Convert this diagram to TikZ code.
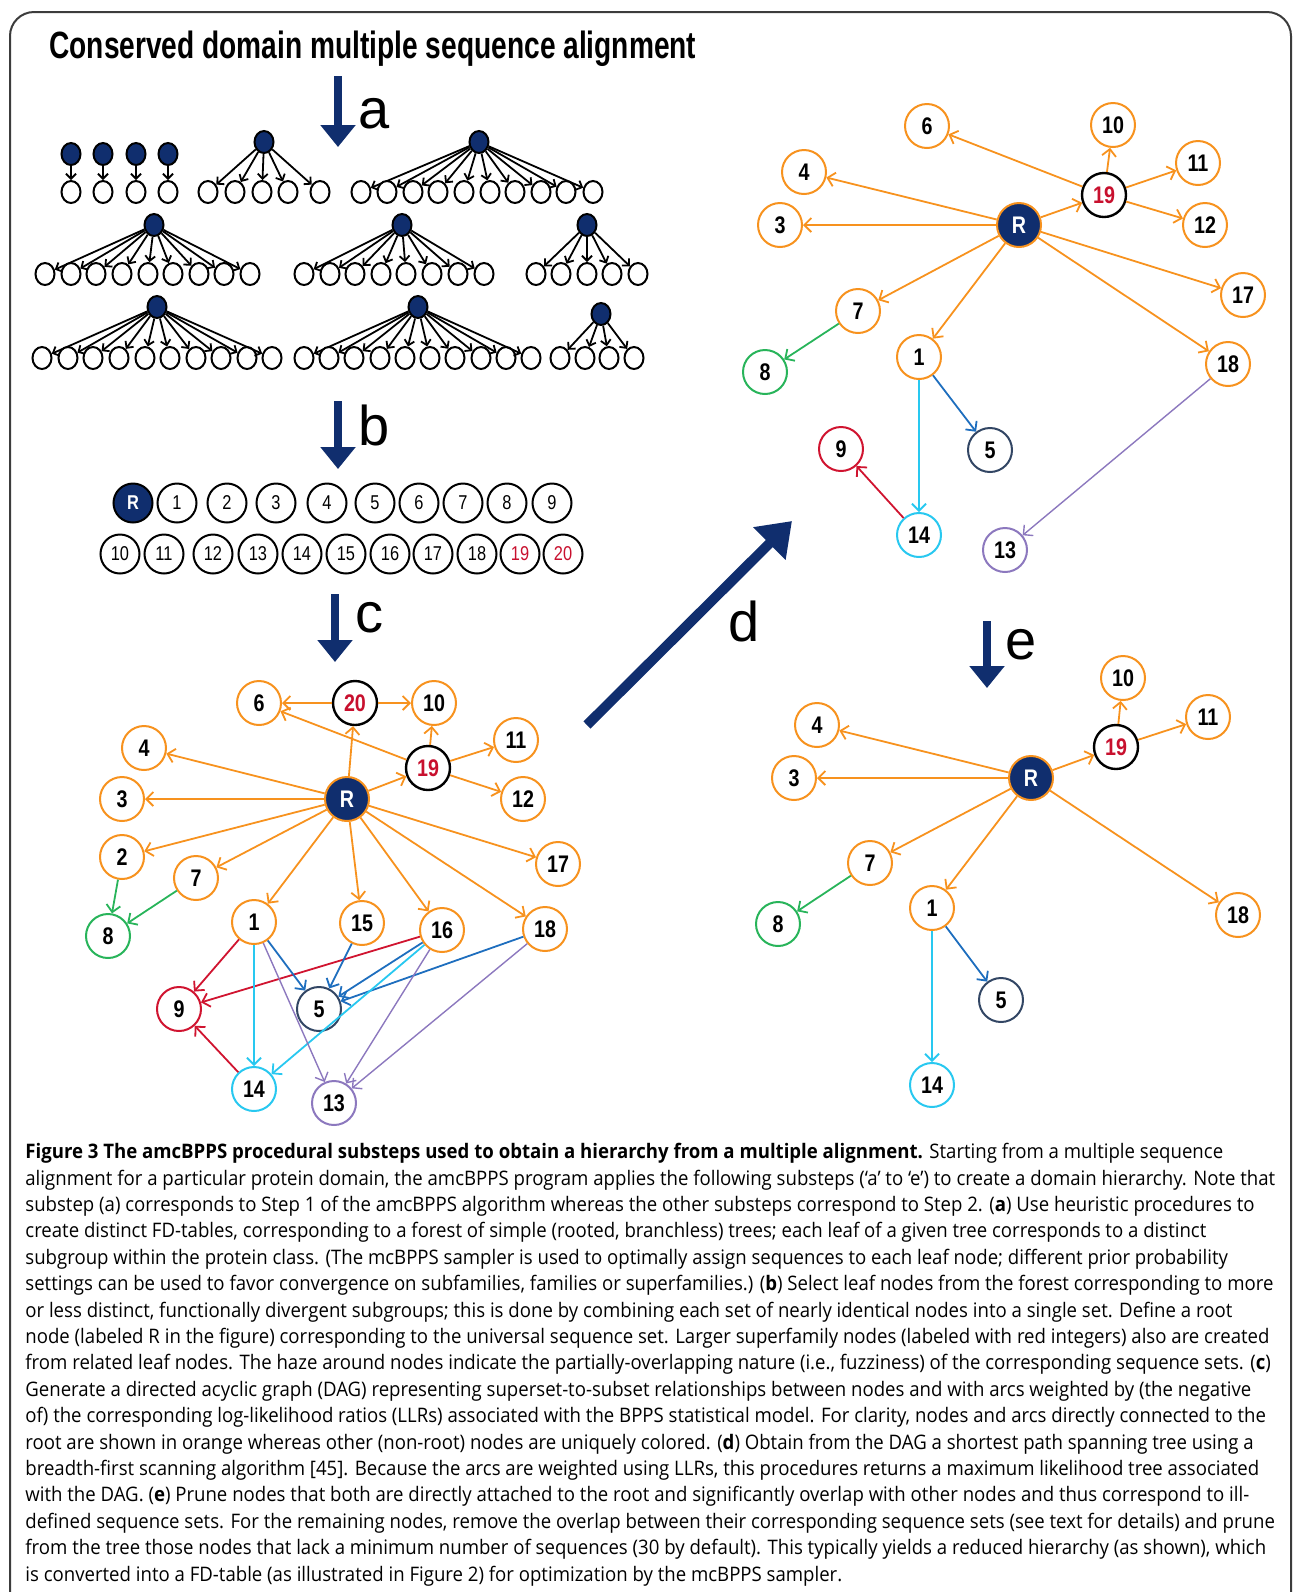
\documentclass[tikz,border=0pt]{standalone}
\usepackage{fontspec}
\usetikzlibrary{arrows.meta,shapes.geometric}
\newfontfamily\capfont[FakeStretch=0.93]{Open Sans}
\newfontfamily\titlefont[FakeStretch=0.74]{Liberation Sans}
\newfontfamily\numfont[FakeStretch=0.82]{Liberation Sans}
\newfontfamily\letterfont{Liberation Sans}
\definecolor{navyB}{RGB}{16,46,110}
\definecolor{orangeE}{RGB}{247,146,30}
\definecolor{greenE}{RGB}{40,180,90}
\definecolor{redE}{RGB}{208,20,48}
\definecolor{blueE}{RGB}{30,110,190}
\definecolor{slateE}{RGB}{50,70,100}
\definecolor{cyanE}{RGB}{40,200,240}
\definecolor{purpleE}{RGB}{140,120,190}
\definecolor{redtxt}{RGB}{200,16,46}
\definecolor{frameG}{RGB}{60,60,60}
% one rooted tree of the forest: name, root x, root y, leaf y, leaf x list
\newcommand{\seqtree}[5]{%
  \node[rootdot] (#1) at (#2,#3) {};
  \foreach \lx [count=\i] in {#5} {
    \node[leafdot] (#1-\i) at (\lx,#4) {};
    \draw[treeedge] (#1) -- (#1-\i);
  }
}
\begin{document}
\begin{tikzpicture}[x=0.5pt,y=-0.5pt,
    leafdot/.style={ellipse, draw=black, line width=1pt, fill=white, minimum width=9.5pt, minimum height=11pt, inner sep=0pt},
    rootdot/.style={leafdot, fill=navyB},
    treeedge/.style={line width=0.9pt, -{Straight Barb[length=2.5pt,width=5pt]}},
    bcirc/.style={circle, draw=black, line width=1pt, minimum size=19.5pt, inner sep=0pt, font=\numfont\fontsize{10}{10}\selectfont},
    gnode/.style={circle, line width=1pt, fill=white, minimum size=22pt, inner sep=0pt, font=\numfont\bfseries\fontsize{12}{12}\selectfont},
    onode/.style={gnode, draw=orangeE},
    supnode/.style={gnode, draw=black, line width=1.2pt, text=redtxt},
    rootnode/.style={gnode, draw=orangeE, fill=navyB, text=white},
    greennode/.style={gnode, draw=greenE},
    rednode/.style={gnode, draw=redE},
    slatenode/.style={gnode, draw=slateE},
    cyannode/.style={gnode, draw=cyanE},
    purplenode/.style={gnode, draw=purpleE},
    edge/.style={line width=0.9pt, -{Straight Barb[length=3.5pt,width=7pt]}},
    oedge/.style={edge, orangeE},
    gedge/.style={edge, greenE},
    redge/.style={edge, redE},
    bedge/.style={edge, blueE},
    cedge/.style={edge, cyanE},
    pedge/.style={edge, purpleE, line width=0.7pt},
    stepto/.style={navyB, line width=4pt, -{Triangle[length=11pt,width=17pt]}},
    steplabel/.style={font=\letterfont\fontsize{28}{28}\selectfont, inner sep=0pt}]
  \useasboundingbox (0,0) rectangle (1293,1592);
  % Draw the frame.
  \draw[frameG, line width=1pt, rounded corners=12] (10,1600) -- (10,12) -- (1291,12) -- (1291,1600);
  % Draw the title and the step arrows.
  \node[anchor=base west, inner sep=0pt, font=\titlefont\bfseries\fontsize{19}{20}\selectfont] (title) at (49,58) {Conserved domain multiple sequence alignment};
  \coordinate (atop) at (338,76);  \coordinate (abot) at (338,147);
  \coordinate (btop) at (338,401); \coordinate (bbot) at (338,469);
  \coordinate (ctop) at (335,594); \coordinate (cbot) at (335,662);
  \coordinate (etop) at (987,621); \coordinate (ebot) at (987,688);
  \coordinate (dtail) at (587,725); \coordinate (dtip) at (792,521);
  \draw[stepto] (atop) -- (abot);
  \draw[stepto] (btop) -- (bbot);
  \draw[stepto] (ctop) -- (cbot);
  \draw[stepto] (etop) -- (ebot);
  \draw[navyB, line width=5pt, -{Triangle[length=16pt,width=22pt]}] (dtail) -- (dtip);
  \node[steplabel] (la) at (374,114) {a};
  \node[steplabel] (lb) at (374,425) {b};
  \node[steplabel] (lc) at (369,618) {c};
  \node[steplabel] (ld) at (744,621) {d};
  \node[steplabel] (le) at (1021,645) {e};
  % (a) The forest of simple trees.
  \seqtree{s1}{71}{154}{192}{71}
  \seqtree{s2}{103}{154}{192}{103}
  \seqtree{s3}{136}{154}{192}{136}
  \seqtree{s4}{168}{154}{192}{168}
  \seqtree{t2}{264}{142}{192}{208,235,262,288,320}
  \seqtree{t3}{479}{142}{192}{361,387,413,438,464,490,515,541,566,593}
  \seqtree{t4}{154}{225}{274}{45,71,96,122,148,173,199,224,250}
  \seqtree{t5}{402}{225}{274}{304,330,355,381,406,432,458,484}
  \seqtree{t6}{587}{225}{274}{536,561,587,612,638}
  \seqtree{t7}{157}{307}{358}{42,68,93,119,145,170,196,221,247,272}
  \seqtree{t8}{418}{307}{358}{304,329,354,380,405,430,455,481,506,531}
  \seqtree{t9}{601}{314}{358}{560,585,609,634}
  % (b) The selected leaf nodes.
  \node[bcirc, fill=navyB, text=white, font=\numfont\bfseries\fontsize{10}{10}\selectfont] (bR) at (133,503) {R};
  \foreach \n/\x in {1/177,2/227,3/276,4/327,5/375,6/419,7/463,8/507,9/552}
    \node[bcirc] (b\n) at (\x,503) {\n};
  \foreach \n/\x in {10/120,11/164,12/213,13/258,14/302,15/346,16/390,17/433,18/477}
    \node[bcirc] (b\n) at (\x,554) {\n};
  \node[bcirc, text=redtxt] (b19) at (520,554) {19};
  \node[bcirc, text=redtxt] (b20) at (563,554) {20};
  % (c) The directed acyclic graph.
  \node[rootnode] (cR) at (347,799) {R};
  \foreach \n/\x/\y in {6/259/703,10/434/703,4/144/748,11/516/740,3/122/799,12/523/799,2/122/857,7/196/878,17/558/864,1/254/922,15/362/923,16/442/930,18/545/929}
    \node[onode] (c\n) at (\x,\y) {\n};
  \node[supnode] (c20) at (355,703) {20};
  \node[supnode] (c19) at (428,768) {19};
  \node[greennode] (c8) at (108,936) {8};
  \node[rednode] (c9) at (179,1009) {9};
  \node[slatenode] (c5) at (319,1009) {5};
  \node[cyannode] (c14) at (254,1089) {14};
  \node[purplenode] (c13) at (334,1103) {13};
  \foreach \t in {20,4,3,2,7,1,15,16,17,18,19}
    \draw[oedge] (cR) -- (c\t);
  \draw[oedge] (c20) -- (c6);
  \draw[oedge] (c20) -- (c10);
  \foreach \t in {6,10,11,12}
    \draw[oedge] (c19) -- (c\t);
  \draw[gedge] (c2) -- (c8);
  \draw[gedge] (c7) -- (c8);
  \foreach \s in {1,16,14}
    \draw[redge] (c\s) -- (c9);
  \foreach \s in {1,15,16,18}
    \draw[bedge] (c\s) -- (c5);
  \foreach \s in {1,16}
    \draw[cedge] (c\s) -- (c14);
  \foreach \s in {1,16,18}
    \draw[pedge] (c\s) -- (c13);
  % (d) The shortest path spanning tree.
  \node[rootnode] (dR) at (1019,225) {R};
  \foreach \n/\x/\y in {6/927/126,10/1113/125,4/804/172,11/1198/163,3/780/225,12/1205/225,17/1243/295,7/858/311,1/919/357,18/1228/364}
    \node[onode] (d\n) at (\x,\y) {\n};
  \node[supnode] (d19) at (1104,195) {19};
  \node[greennode] (d8) at (765,372) {8};
  \node[rednode] (d9) at (841,449) {9};
  \node[slatenode] (d5) at (990,450) {5};
  \node[cyannode] (d14) at (919,535) {14};
  \node[purplenode] (d13) at (1005,550) {13};
  \foreach \t in {4,3,7,1,17,18,19}
    \draw[oedge] (dR) -- (d\t);
  \foreach \t in {6,10,11,12}
    \draw[oedge] (d19) -- (d\t);
  \draw[gedge] (d7) -- (d8);
  \draw[cedge] (d1) -- (d14);
  \draw[bedge] (d1) -- (d5);
  \draw[redge] (d14) -- (d9);
  \draw[pedge] (d18) -- (d13);
  % (e) The reduced hierarchy.
  \node[rootnode] (eR) at (1031,778) {R};
  \foreach \n/\x/\y in {10/1123/678,4/817/725,11/1208/717,3/794/778,7/870/863,1/932/908,18/1238/915}
    \node[onode] (e\n) at (\x,\y) {\n};
  \node[supnode] (e19) at (1116,747) {19};
  \node[greennode] (e8) at (778,924) {8};
  \node[slatenode] (e5) at (1001,1000) {5};
  \node[cyannode] (e14) at (932,1085) {14};
  \foreach \t in {4,3,19,7,1,18}
    \draw[oedge] (eR) -- (e\t);
  \draw[oedge] (e19) -- (e10);
  \draw[oedge] (e19) -- (e11);
  \draw[gedge] (e7) -- (e8);
  \draw[cedge] (e1) -- (e14);
  \draw[bedge] (e1) -- (e5);
  % The caption.
  \node[anchor=north west, align=left, inner sep=0pt, font=\capfont\fontsize{10}{13.2}\selectfont] (caption) at (25,1143) {%
    \textbf{Figure 3 The amcBPPS procedural substeps used to obtain a hierarchy from a multiple alignment.} Starting from a multiple sequence\\
    alignment for a particular protein domain, the amcBPPS program applies the following substeps (‘a’ to ‘e’) to create a domain hierarchy. Note that\\
    substep (a) corresponds to Step 1 of the amcBPPS algorithm whereas the other substeps correspond to Step 2. (\textbf{a}) Use heuristic procedures to\\
    create distinct FD-tables, corresponding to a forest of simple (rooted, branchless) trees; each leaf of a given tree corresponds to a distinct\\
    subgroup within the protein class. (The mcBPPS sampler is used to optimally assign sequences to each leaf node; different prior probability\\
    settings can be used to favor convergence on subfamilies, families or superfamilies.) (\textbf{b}) Select leaf nodes from the forest corresponding to more\\
    or less distinct, functionally divergent subgroups; this is done by combining each set of nearly identical nodes into a single set. Define a root\\
    node (labeled R in the figure) corresponding to the universal sequence set. Larger superfamily nodes (labeled with red integers) also are created\\
    from related leaf nodes. The haze around nodes indicate the partially-overlapping nature (i.e., fuzziness) of the corresponding sequence sets. (\textbf{c})\\
    Generate a directed acyclic graph (DAG) representing superset-to-subset relationships between nodes and with arcs weighted by (the negative\\
    of) the corresponding log-likelihood ratios (LLRs) associated with the BPPS statistical model. For clarity, nodes and arcs directly connected to the\\
    root are shown in orange whereas other (non-root) nodes are uniquely colored. (\textbf{d}) Obtain from the DAG a shortest path spanning tree using a\\
    breadth-first scanning algorithm [45]. Because the arcs are weighted using LLRs, this procedures returns a maximum likelihood tree associated\\
    with the DAG. (\textbf{e}) Prune nodes that both are directly attached to the root and significantly overlap with other nodes and thus correspond to ill-\\
    defined sequence sets. For the remaining nodes, remove the overlap between their corresponding sequence sets (see text for details) and prune\\
    from the tree those nodes that lack a minimum number of sequences (30 by default). This typically yields a reduced hierarchy (as shown), which\\
    is converted into a FD-table (as illustrated in Figure 2) for optimization by the mcBPPS sampler.};
\end{tikzpicture}
\end{document}
